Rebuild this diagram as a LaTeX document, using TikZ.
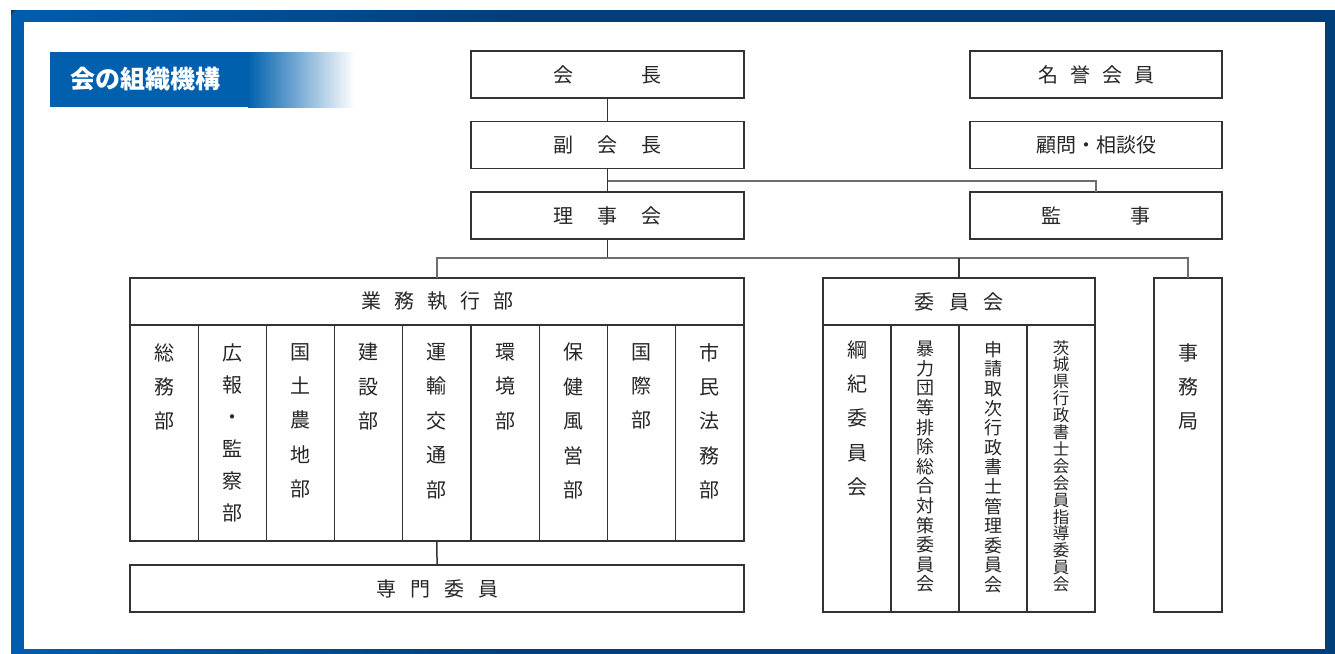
\documentclass[tikz,border=0pt]{standalone}
\usepackage{fontspec}
\usepackage{xcolor}
\newfontfamily\jp{Noto Sans CJK JP}
\definecolor{frameL}{HTML}{005DAE}
\definecolor{frameR}{HTML}{003E79}
\definecolor{titleblue}{HTML}{0060AE}
\definecolor{linec}{HTML}{333333}
\definecolor{wirec}{HTML}{6E6E6E}
\newcommand{\gap}[1]{\hspace{#1pt}}
\tikzset{
  box/.style={draw=linec, line width=1.2pt, inner sep=0pt, outer sep=0pt,
    minimum height=47pt, text=black!85, font=\jp\fontsize{20}{24}\selectfont},
  col/.style={draw=linec, line width=1.2pt, inner sep=0pt, outer sep=0pt},
  vtext/.style={anchor=north, align=center, inner sep=0pt, text=black!85,
    font=\jp\fontsize{20}{34.4}\selectfont},
  wire/.style={draw=wirec, line width=1.5pt}
}

\begin{document}
\begin{tikzpicture}[x=1pt,y=-1pt]
  \useasboundingbox (0,0) rectangle (1335,653);
  % frame
  \fill[frameR] (11,10) rectangle (1345,663);
  \shade[left color=frameL, right color=frameR, rounded corners=8pt]
    (11,10) rectangle (520,663);
  \fill[white] (24,22) rectangle (1325,649);
  % title banner
  \fill[titleblue] (50,52) rectangle (248,107);
  \shade[left color=titleblue, right color=white] (248,52) rectangle (354,107);
  \node[anchor=west, text=white, font=\jp\bfseries\fontsize{25}{28}\selectfont] (title) at (67,79) {会の組織機構};

  % top column
  \node[box, minimum width=273pt] (kaicho) at (607.5,74.5) {会\gap{68}長};
  \node[box, minimum width=273pt] (fukukaicho) at (607.5,145) {副\gap{24}会\gap{24}長};
  \node[box, minimum width=273pt] (rijikai) at (607.5,215.5) {理\gap{24}事\gap{24}会};
  \node[box, minimum width=252pt] (meiyo) at (1096,74.5) {名\gap{12}誉\gap{12}会\gap{12}員};
  \node[box, minimum width=252pt] (komon) at (1096,145) {顧問・相談役};
  \node[box, minimum width=252pt] (kanji) at (1096,215.5) {監\gap{69}事};

  \draw[wire, draw=linec] (kaicho) -- (fukukaicho);
  \draw[wire, draw=linec] (fukukaicho) -- (rijikai);
  \coordinate (kbranch) at (607.5,181);
  \draw[wire] (kbranch) -| (kanji.north);

  % 業務執行部
  \node[box, minimum width=614pt] (gyomu) at (437,301.5) {業\gap{13}務\gap{13}執\gap{13}行\gap{13}部};
  \foreach \t [count=\i] in {総\\務\\部, 広\\[-2.4pt]報\\[-2.4pt]・\\[-2.4pt]監\\[-2.4pt]察\\[-2.4pt]部,
      国\\土\\農\\地\\部, 建\\設\\部, 運\\輸\\交\\通\\部, 環\\境\\部,
      保\\健\\風\\営\\部, 国\\際\\部, 市\\民\\法\\務\\部} {
    \node[col, minimum width=68.2pt, minimum height=216pt, anchor=north west]
      (gyo\i) at ({130+68.22*(\i-1)},325) {};
    \node[vtext] (gyot\i) at ({164.1+68.22*(\i-1)},343) {\t};
  }
  \node[box, minimum width=614pt] (senmon) at (437,588.5) {専\gap{14}門\gap{14}委\gap{14}員};
  \draw[wire, draw=linec] (gyo5.south) -- (senmon.north);

  % 委員会
  \node[box, minimum width=272pt] (iinkai) at (959,301.5) {委\gap{14.5}員\gap{14.5}会};
  \foreach \i in {1,...,4}
    \node[col, minimum width=68pt, minimum height=287pt, anchor=north west]
      (iin\i) at ({823+68*(\i-1)},325) {};
  \node[vtext] (iint1) at (iin1.north) [yshift=-15pt] {綱\\紀\\委\\員\\会};
  \node[vtext, font=\jp\fontsize{18}{19.6}\selectfont] (iint2) at (iin2.north) [yshift=-16pt]
    {暴\\力\\団\\等\\排\\除\\総\\合\\対\\策\\委\\員\\会};
  \node[vtext, font=\jp\fontsize{18}{19.6}\selectfont] (iint3) at (iin3.north) [yshift=-16pt]
    {申\\請\\取\\次\\行\\政\\書\\士\\管\\理\\委\\員\\会};
  \node[vtext, font=\jp\fontsize{16.5}{16.9}\selectfont] (iint4) at (iin4.north) [yshift=-15pt]
    {茨\\城\\県\\行\\政\\書\\士\\会\\会\\員\\指\\導\\委\\員\\会};

  % 事務局
  \node[col, minimum width=68pt, minimum height=334pt] (jimu) at (1188,445) {};
  \node[vtext] (jimut) at (jimu.north) [yshift=-65pt] {事\\務\\局};

  % 理事会から下
  \coordinate (bus) at (607.5,258);
  \draw[wire, draw=linec] (rijikai.south) -- (bus);
  \draw[wire] (gyomu.north) |- (bus) -| (jimu.north);
  \draw[wire, draw=linec] (bus -| iinkai.north) -- (iinkai.north);
\end{tikzpicture}
\end{document}
